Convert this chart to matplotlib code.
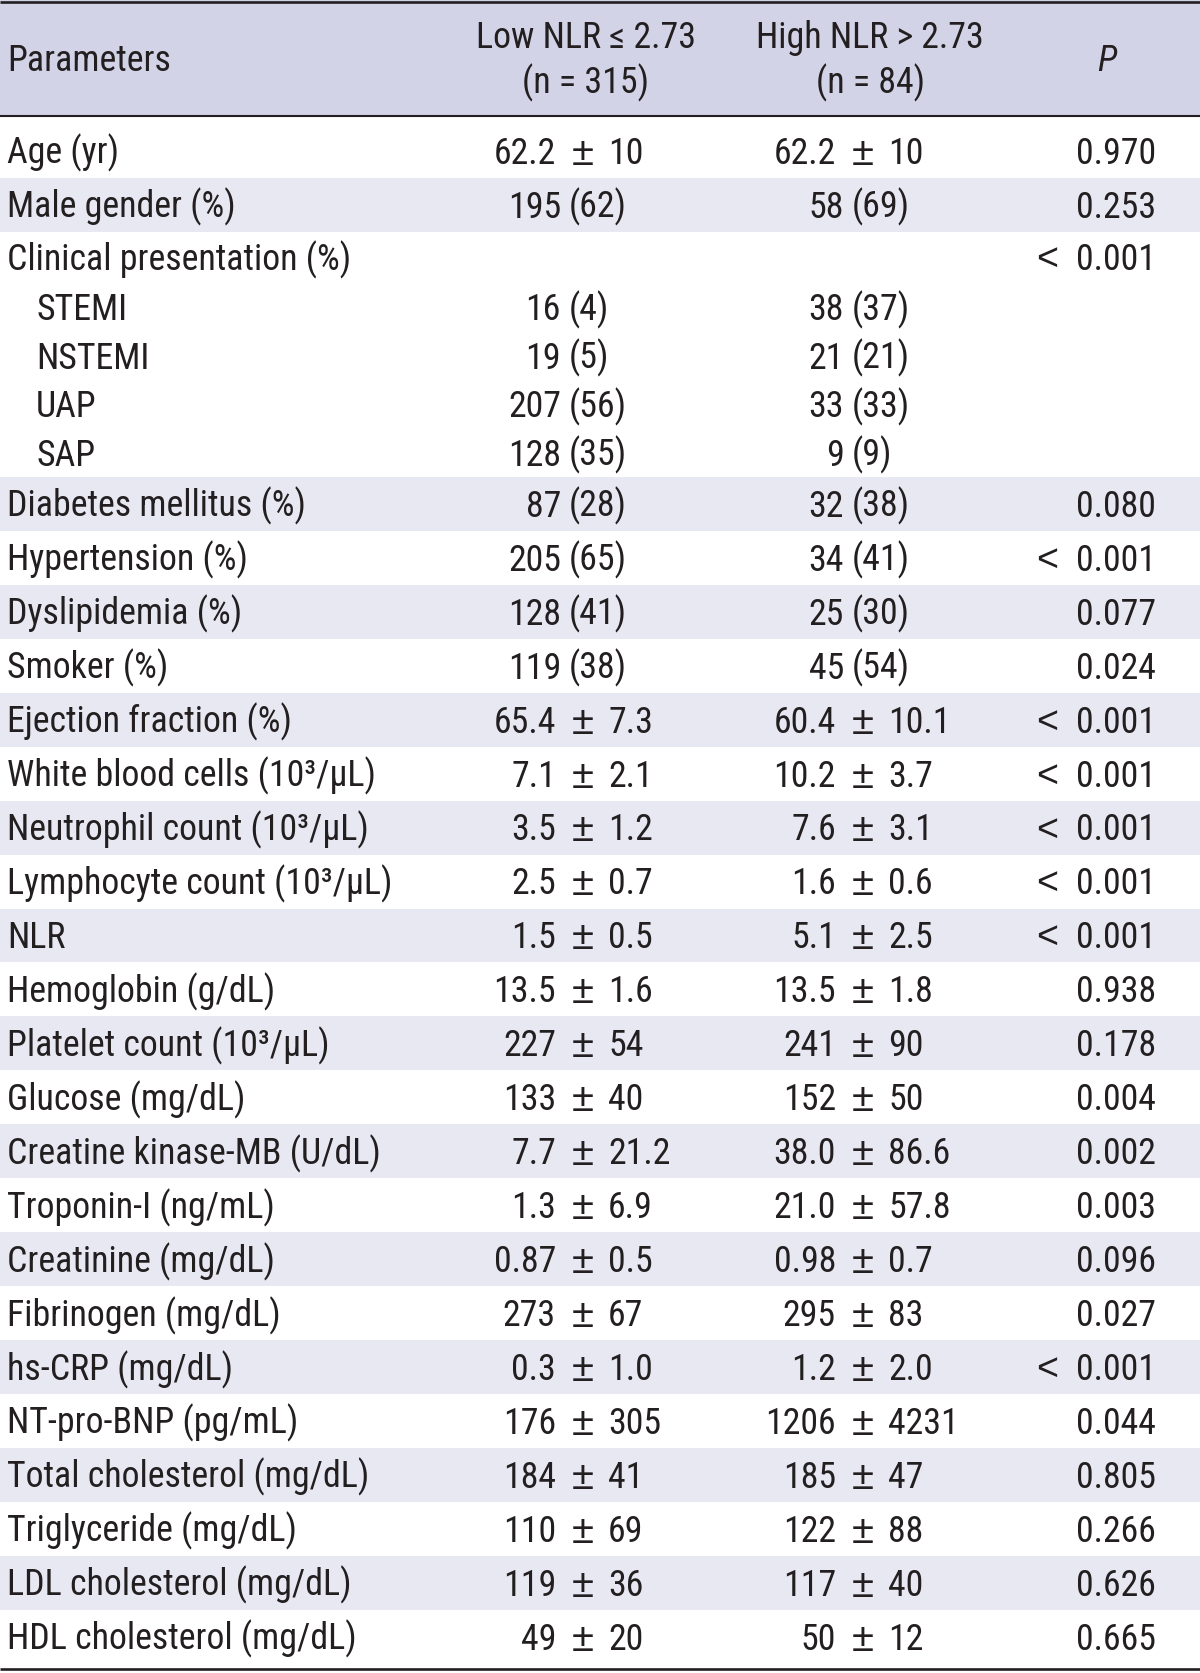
import matplotlib
matplotlib.use("Agg")
import matplotlib.pyplot as plt
from matplotlib import font_manager
from matplotlib.patches import Rectangle

# ---------------- data ----------------
parameters = [
    "Age (yr)", "Male gender (%)", "Clinical presentation (%)",
    "STEMI", "NSTEMI", "UAP", "SAP",
    "Diabetes mellitus (%)", "Hypertension (%)", "Dyslipidemia (%)", "Smoker (%)",
    "Ejection fraction (%)", "White blood cells (10³/μL)", "Neutrophil count (10³/μL)",
    "Lymphocyte count (10³/μL)", "NLR", "Hemoglobin (g/dL)", "Platelet count (10³/μL)",
    "Glucose (mg/dL)", "Creatine kinase-MB (U/dL)", "Troponin-I (ng/mL)",
    "Creatinine (mg/dL)", "Fibrinogen (mg/dL)", "hs-CRP (mg/dL)", "NT-pro-BNP (pg/mL)",
    "Total cholesterol (mg/dL)", "Triglyceride (mg/dL)", "LDL cholesterol (mg/dL)",
    "HDL cholesterol (mg/dL)",
]
sub_rows = ["STEMI", "NSTEMI", "UAP", "SAP"]
group_header = "Clinical presentation (%)"

low_nlr = [
    "62.2 ± 10", "195 (62)", "", "16 (4)", "19 (5)", "207 (56)", "128 (35)",
    "87 (28)", "205 (65)", "128 (41)", "119 (38)", "65.4 ± 7.3", "7.1 ± 2.1",
    "3.5 ± 1.2", "2.5 ± 0.7", "1.5 ± 0.5", "13.5 ± 1.6", "227 ± 54", "133 ± 40",
    "7.7 ± 21.2", "1.3 ± 6.9", "0.87 ± 0.5", "273 ± 67", "0.3 ± 1.0", "176 ± 305",
    "184 ± 41", "110 ± 69", "119 ± 36", "49 ± 20",
]
high_nlr = [
    "62.2 ± 10", "58 (69)", "", "38 (37)", "21 (21)", "33 (33)", "9 (9)",
    "32 (38)", "34 (41)", "25 (30)", "45 (54)", "60.4 ± 10.1", "10.2 ± 3.7",
    "7.6 ± 3.1", "1.6 ± 0.6", "5.1 ± 2.5", "13.5 ± 1.8", "241 ± 90", "152 ± 50",
    "38.0 ± 86.6", "21.0 ± 57.8", "0.98 ± 0.7", "295 ± 83", "1.2 ± 2.0", "1206 ± 4231",
    "185 ± 47", "122 ± 88", "117 ± 40", "50 ± 12",
]
p_values = [
    "0.970", "0.253", "< 0.001", "", "", "", "",
    "0.080", "< 0.001", "0.077", "0.024", "< 0.001", "< 0.001",
    "< 0.001", "< 0.001", "< 0.001", "0.938", "0.178", "0.004",
    "0.002", "0.003", "0.096", "0.027", "< 0.001", "0.044",
    "0.805", "0.266", "0.626", "0.665",
]
header_cols = ["Parameters", "Low NLR ≤ 2.73\n(n = 315)", "High NLR > 2.73\n(n = 84)", "P"]

# ---------------- style ----------------
names = {f.name for f in font_manager.fontManager.ttflist}
if "Liberation Sans Narrow" in names:
    FAMILY, FS = "Liberation Sans Narrow", 26.5
elif "Roboto Condensed" in names:
    FAMILY, FS = "Roboto Condensed", 25.8
else:
    FAMILY, FS = "Liberation Sans", 24
plt.rcParams["font.family"] = [FAMILY, "DejaVu Sans"]
SYM_FAMILY = ["Liberation Sans", "DejaVu Sans"]
WEIGHT = "normal"

TXT = "#231f20"
HEAD_BG = "#d3d3e8"
STRIPE = "#e8e8f3"
W, H = 1200, 1673

fig = plt.figure(figsize=(W / 100, H / 100), dpi=100)
ax = fig.add_axes([0, 0, 1, 1])
ax.set_xlim(0, W)
ax.set_ylim(H, 0)
ax.axis("off")

em = FS * 100 / 72.0
base_off = 0.36 * em  # half cap height


def put(x, yc, s, ha="left", size=None, **kw):
    kw.setdefault("fontweight", WEIGHT)
    ax.text(x, yc + base_off, s, ha=ha, va="baseline", fontsize=size or FS,
            color=TXT, **kw)


# columns
X_PARAM, X_SUB = 7, 36
COL_ANCH = [556, 836]      # right edge of left number for "a ± b"
CNT_ANCH = [561, 844]      # right edge of count for "n (p)"
X_P = 1156

# header
HEAD_BOTTOM = 116
ax.add_patch(Rectangle((0, 0), W, HEAD_BOTTOM, color=HEAD_BG, lw=0))
put(X_PARAM, 58.5, header_cols[0])
for cx, lab in zip([586, 870], header_cols[1:3]):
    l1, l2 = lab.split("\n")
    put(cx, 35, l1, ha="center")
    put(cx, 81, l2, ha="center")
put(1107, 58.5, header_cols[3], ha="center", style="italic")

# rows layout
ROW_H, GROUP_H, SUB_H = 53.95, 51.0, 48.5
y = 124.0
stripe_idx = -1
rows = []
for name in parameters:
    if name in sub_rows:
        h = SUB_H
    elif name == group_header:
        h = GROUP_H
    else:
        h = ROW_H
    if name not in sub_rows:
        stripe_idx += 1
    rows.append((y, h, stripe_idx))
    y += h

# stripes (span whole groups)
for idx in sorted(set(r[2] for r in rows)):
    if idx % 2 == 1:
        members = [r for r in rows if r[2] == idx]
        top = members[0][0]
        bot = members[-1][0] + members[-1][1]
        ax.add_patch(Rectangle((0, top), W, bot - top, color=STRIPE, lw=0))


def draw_cell(ci, yc, s):
    if not s:
        return
    if "±" in s:
        a, b = [t.strip() for t in s.split("±")]
        A = COL_ANCH[ci]
        put(A, yc, a, ha="right")
        put(A + 27, yc + 1, "±", ha="center", family=SYM_FAMILY, size=FS * 1.12)
        put(A + 52, yc, b, ha="left")
    else:
        n, p = s.split(" ", 1)
        A = CNT_ANCH[ci]
        put(A, yc, n, ha="right")
        put(A + 8, yc, p, ha="left")


def draw_p(yc, s):
    if not s:
        return
    if s.startswith("<"):
        num = s[1:].strip()
        put(X_P, yc, num, ha="right")
        put(X_P - 98, yc, "<", ha="right", family=SYM_FAMILY, size=FS * 1.05)
    else:
        put(X_P, yc, s, ha="right")


for name, lo, hi, pv, (top, h, _) in zip(parameters, low_nlr, high_nlr, p_values, rows):
    yc = top + h / 2
    put(X_SUB if name in sub_rows else X_PARAM, yc, name)
    draw_cell(0, yc, lo)
    draw_cell(1, yc, hi)
    draw_p(yc, pv)

# rules
ax.plot([0, W], [1.5, 1.5], color=TXT, lw=1.9, solid_capstyle="butt")
ax.plot([0, W], [HEAD_BOTTOM, HEAD_BOTTOM], color=TXT, lw=1.5, solid_capstyle="butt")
ax.plot([0, W], [1669, 1669], color=TXT, lw=1.9, solid_capstyle="butt")

fig.savefig("out.png", dpi=100)
